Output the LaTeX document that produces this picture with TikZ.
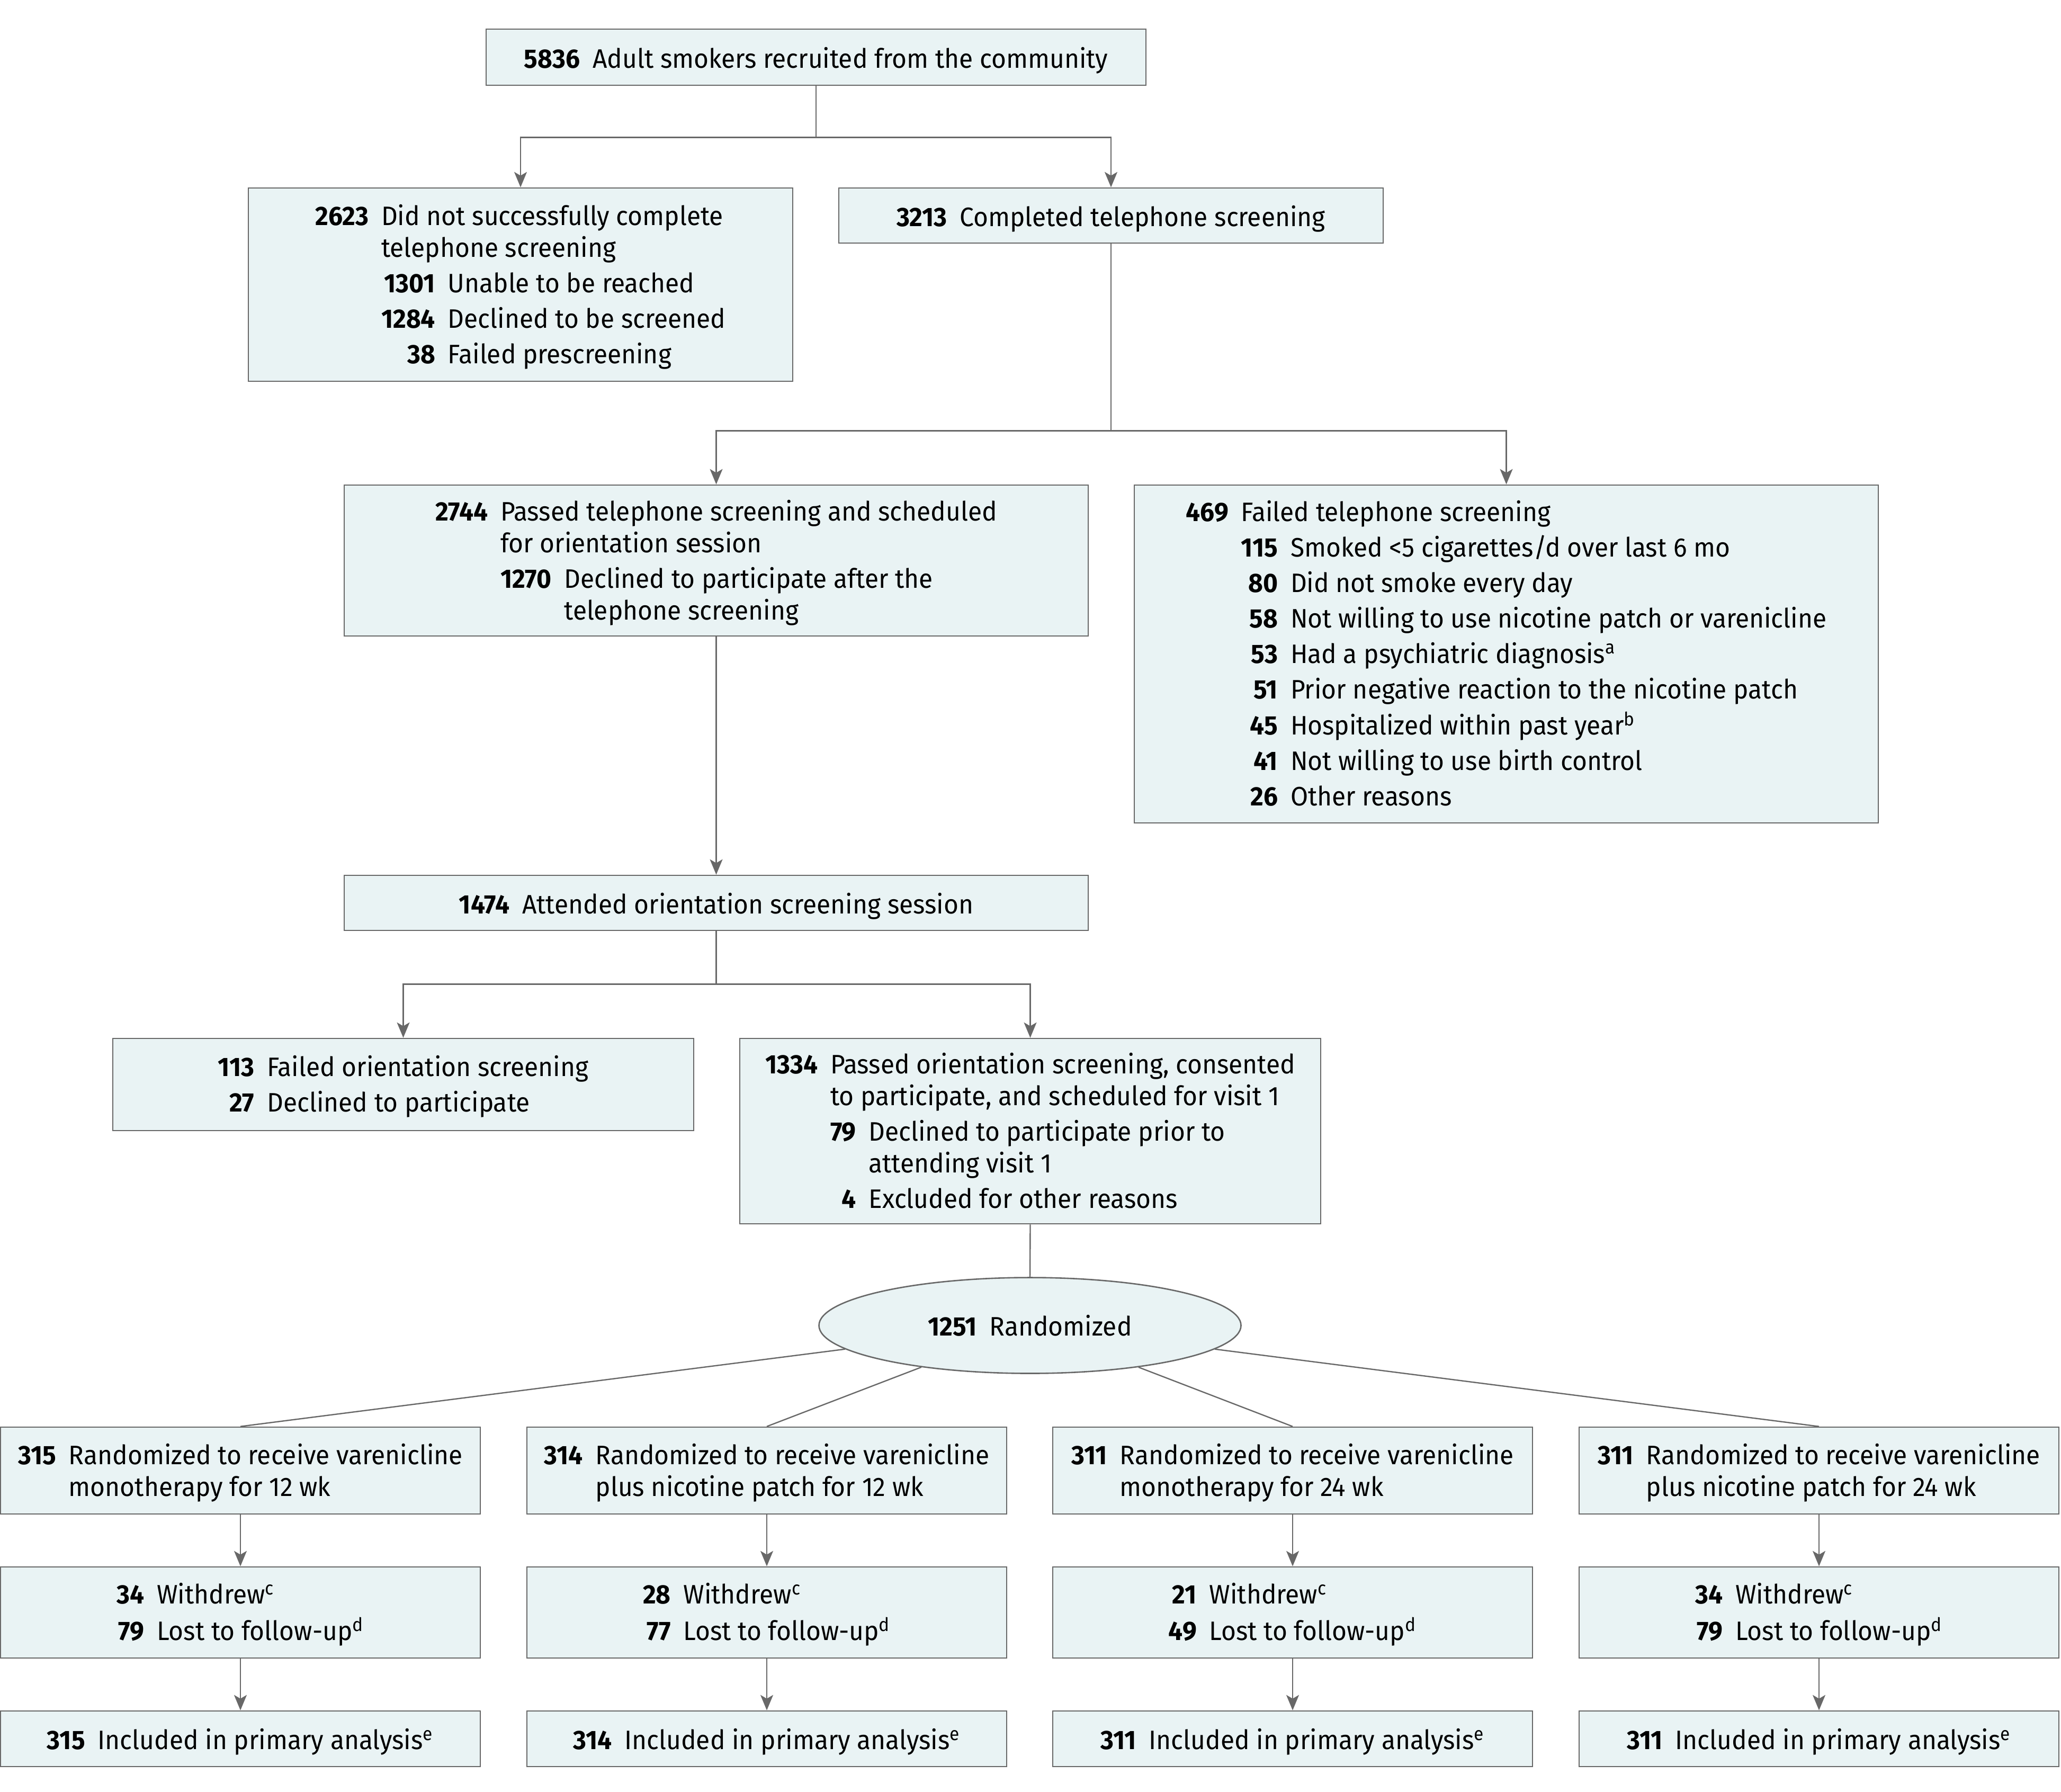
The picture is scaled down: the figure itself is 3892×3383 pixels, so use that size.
\documentclass[tikz,border=0pt]{standalone}
\usepackage{fontspec}
\setmainfont[FakeStretch=0.95]{Fira Sans}
\usetikzlibrary{shapes.geometric,arrows.meta,calc}
\definecolor{boxfill}{HTML}{E9F3F4}
\definecolor{linegray}{HTML}{686868}
\newcommand{\nm}[1]{\textbf{#1}\kern6pt}
\newcommand{\mcl}[1]{\multicolumn{2}{l}{#1}}
\newcommand{\tx}[1]{\raisebox{-1.5pt}[\height][\depth]{#1}}
\setlength{\tabcolsep}{0pt}
\begin{document}
\begin{tikzpicture}[x=0.25pt,y=-0.25pt,
  box/.style={draw=linegray, fill=boxfill, line width=0.65pt, inner sep=0pt,
    font=\fontsize{12.6pt}{15pt}\selectfont},
  conn/.style={draw=linegray, line width=0.6pt},
  arr/.style={conn, -{Stealth[length=7.25pt,width=6pt,inset=1.75pt]}}]
\useasboundingbox (0,0) rectangle (3892,3383);

\node[box, minimum width=311.5pt, minimum height=26.5pt] (top) at (1541,108)
  {\tx{\nm{5836}Adult smokers recruited from the community}};

\node[box, minimum width=257pt, minimum height=91.25pt] (a) at (983,537.5)
  {\tx{\begin{tabular}{rrl}
  \nm{2623} & \mcl{Did not successfully complete}\\
   & \mcl{telephone screening}\\[1.75pt]
   & \nm{1301} & Unable to be reached\\[1.75pt]
   & \nm{1284} & Declined to be screened\\[1.75pt]
   & \nm{38} & Failed prescreening
  \end{tabular}}};

\node[box, minimum width=257pt, minimum height=26pt] (b) at (2098,407)
  {\tx{\nm{3213}Completed telephone screening}};

\node[box, minimum width=351.25pt, minimum height=71.25pt] (c) at (1352.5,1058.5)
  {\tx{\begin{tabular}{rrl}
  \nm{2744} & \mcl{Passed telephone screening and scheduled}\\
   & \mcl{for orientation session}\\[1.75pt]
   & \nm{1270} & Declined to participate after the\\
   & & telephone screening
  \end{tabular}}};

\node[box, minimum width=351.25pt, minimum height=159.5pt] (d) at (2844.5,1235)
  {\tx{\begin{tabular}{rrl}
  \nm{469} & \mcl{Failed telephone screening}\\[1.75pt]
   & \nm{115} & Smoked <5 cigarettes/d over last 6 mo\\[1.75pt]
   & \nm{80} & Did not smoke every day\\[1.75pt]
   & \nm{58} & Not willing to use nicotine patch or varenicline\\[1.75pt]
   & \nm{53} & Had a psychiatric diagnosis\textsuperscript{a}\\[1.75pt]
   & \nm{51} & Prior negative reaction to the nicotine patch\\[1.75pt]
   & \nm{45} & Hospitalized within past year\textsuperscript{b}\\[1.75pt]
   & \nm{41} & Not willing to use birth control\\[1.75pt]
   & \nm{26} & Other reasons
  \end{tabular}}};

\node[box, minimum width=351.25pt, minimum height=26pt] (e) at (1352.5,1705)
  {\tx{\nm{1474}Attended orientation screening session}};

\node[box, minimum width=274.25pt, minimum height=43.5pt] (f) at (761.5,2048)
  {\tx{\begin{tabular}{rl}
  \nm{113} & Failed orientation screening\\[1.75pt]
  \nm{27} & Declined to participate
  \end{tabular}}};

\node[box, minimum width=274.25pt, minimum height=87.5pt] (g) at (1945.5,2136)
  {\tx{\begin{tabular}{rrl}
  \nm{1334} & \mcl{Passed orientation screening, consented}\\
   & \mcl{to participate, and scheduled for visit 1}\\[1.75pt]
   & \nm{79} & Declined to participate prior to\\
   & & attending visit 1\\[1.75pt]
   & \nm{4} & Excluded for other reasons
  \end{tabular}}};

\node[box, ellipse, minimum width=199.25pt, minimum height=45.25pt] (ell) at (1945,2503)
  {\nm{1251}Randomized};

% treatment arms
\node[box, minimum width=226.5pt, minimum height=41pt] (r1) at (454,2777)
  {\tx{\begin{tabular}{rl}
  \nm{315} & Randomized to receive varenicline\\
   & monotherapy for 12 wk
  \end{tabular}}};
\node[box, minimum width=226.5pt, minimum height=41pt] (r2) at (1448,2777)
  {\tx{\begin{tabular}{rl}
  \nm{314} & Randomized to receive varenicline\\
   & plus nicotine patch for 12 wk
  \end{tabular}}};
\node[box, minimum width=226.5pt, minimum height=41pt] (r3) at (2441,2777)
  {\tx{\begin{tabular}{rl}
  \nm{311} & Randomized to receive varenicline\\
   & monotherapy for 24 wk
  \end{tabular}}};
\node[box, minimum width=226.5pt, minimum height=41pt] (r4) at (3435,2777)
  {\tx{\begin{tabular}{rl}
  \nm{311} & Randomized to receive varenicline\\
   & plus nicotine patch for 24 wk
  \end{tabular}}};

\node[box, minimum width=226.5pt, minimum height=43pt] (s1) at (454,3045)
  {\tx{\begin{tabular}{rl}
  \nm{34} & Withdrew\textsuperscript{c}\\[1.75pt]
  \nm{79} & Lost to follow-up\textsuperscript{d}
  \end{tabular}}};
\node[box, minimum width=226.5pt, minimum height=43pt] (s2) at (1448,3045)
  {\tx{\begin{tabular}{rl}
  \nm{28} & Withdrew\textsuperscript{c}\\[1.75pt]
  \nm{77} & Lost to follow-up\textsuperscript{d}
  \end{tabular}}};
\node[box, minimum width=226.5pt, minimum height=43pt] (s3) at (2441,3045)
  {\tx{\begin{tabular}{rl}
  \nm{21} & Withdrew\textsuperscript{c}\\[1.75pt]
  \nm{49} & Lost to follow-up\textsuperscript{d}
  \end{tabular}}};
\node[box, minimum width=226.5pt, minimum height=43pt] (s4) at (3435,3045)
  {\tx{\begin{tabular}{rl}
  \nm{34} & Withdrew\textsuperscript{c}\\[1.75pt]
  \nm{79} & Lost to follow-up\textsuperscript{d}
  \end{tabular}}};

\node[box, minimum width=226.5pt, minimum height=26.25pt] (t1) at (454,3283.5)
  {\tx{\nm{315}Included in primary analysis\textsuperscript{e}}};
\node[box, minimum width=226.5pt, minimum height=26.25pt] (t2) at (1448,3283.5)
  {\tx{\nm{314}Included in primary analysis\textsuperscript{e}}};
\node[box, minimum width=226.5pt, minimum height=26.25pt] (t3) at (2441,3283.5)
  {\tx{\nm{311}Included in primary analysis\textsuperscript{e}}};
\node[box, minimum width=226.5pt, minimum height=26.25pt] (t4) at (3435,3283.5)
  {\tx{\nm{311}Included in primary analysis\textsuperscript{e}}};

% connectors
\path (top.south) ++(0,97) coordinate (j1);
\path (b.south) ++(0,353) coordinate (j2);
\path (e.south) ++(0,100) coordinate (j3);

\draw[conn] (top.south) -- (j1);
\draw[arr] (j1) -| (a.north);
\draw[arr] (j1) -| (b.north);

\draw[conn] (b.south) -- (j2);
\draw[arr] (j2) -| (c.north);
\draw[arr] (j2) -| (d.north);

\draw[arr] (c.south) -- (e.north);

\draw[conn] (e.south) -- (j3);
\draw[arr] (j3) -| (f.north);
\draw[arr] (j3) -| (g.north);

\draw[conn] (g.south) -- (ell.north);
\draw[conn] (ell) -- (r1.north);
\draw[conn] (ell) -- (r2.north);
\draw[conn] (ell) -- (r3.north);
\draw[conn] (ell) -- (r4.north);

\draw[arr] (r1.south) -- (s1.north);
\draw[arr] (r2.south) -- (s2.north);
\draw[arr] (r3.south) -- (s3.north);
\draw[arr] (r4.south) -- (s4.north);
\draw[arr] (s1.south) -- (t1.north);
\draw[arr] (s2.south) -- (t2.north);
\draw[arr] (s3.south) -- (t3.north);
\draw[arr] (s4.south) -- (t4.north);
\end{tikzpicture}
\end{document}
